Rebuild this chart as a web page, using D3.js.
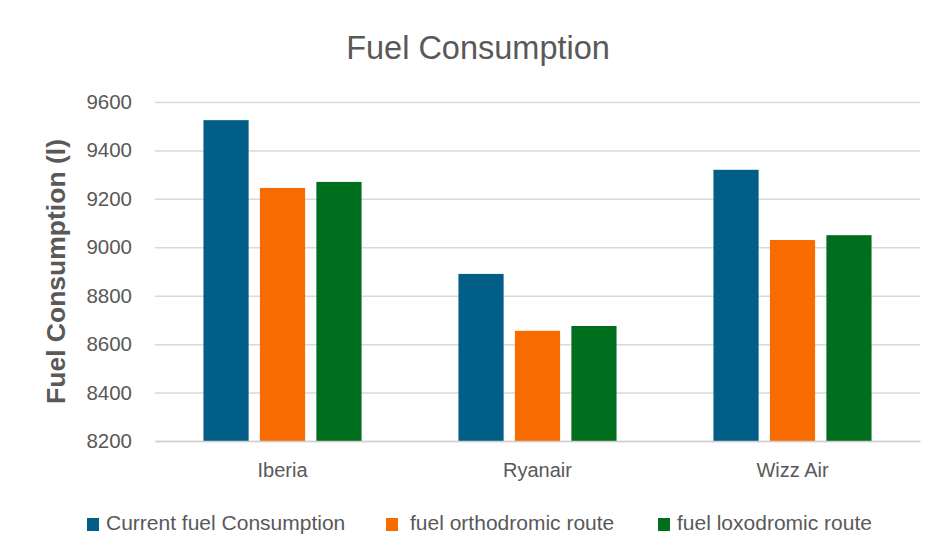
<!DOCTYPE html>
<html>
<head>
<meta charset="utf-8">
<script src="https://cdn.jsdelivr.net/npm/d3@7/dist/d3.min.js"></script>
<style>
  html, body { margin: 0; padding: 0; background: #fff; }
  svg { display: block; font-family: "Liberation Sans", Arial, sans-serif; }
</style>
</head>
<body>
<svg id="chart" width="938" height="559"></svg>
<script>
const categories = ["Iberia", "Ryanair", "Wizz Air"];
const seriesNames = ["Current fuel Consumption", "fuel  orthodromic route", "fuel loxodromic route"];
const currentFuel = [9525, 8890, 9320];
const orthodromicFuel = [9245, 8655, 9030];
const loxodromicFuel = [9270, 8675, 9050];
const yTicks = [8200, 8400, 8600, 8800, 9000, 9200, 9400, 9600];
const colors = ["#005E87", "#F76B00", "#006E1F"];
const chartTitle = "Fuel Consumption";
const yTitle = "Fuel Consumption (l)";

const series = [currentFuel, orthodromicFuel, loxodromicFuel];
const data = categories.map((c, i) => ({
  category: c,
  values: series.map((s, j) => ({ key: seriesNames[j], idx: j, value: s[i] }))
}));

const svg = d3.select("#chart");
const margin = { left: 155, right: 18, top: 102, bottom: 118 };
const W = 938, H = 559;
const plotW = W - margin.left - margin.right;
const plotH = H - margin.top - margin.bottom;
const textColor = "#595959";

const g = svg.append("g").attr("transform", `translate(${margin.left},${margin.top})`);

const y = d3.scaleLinear().domain([8200, 9600]).range([plotH, 0]);
const x0 = d3.scaleBand().domain(categories).range([0, plotW]).paddingInner(0.38).paddingOuter(0.19);
const x1 = d3.scaleBand().domain(d3.range(series.length)).range([0, x0.bandwidth()]).paddingInner(0.2);

// gridlines
const grid = g.append("g").call(d3.axisLeft(y).tickValues(yTicks).tickSize(-plotW).tickFormat(""));
grid.select(".domain").remove();
grid.selectAll(".tick line").attr("stroke", "#D9D9D9").attr("stroke-width", 1.5);

// y tick labels
const yAxis = g.append("g").call(d3.axisLeft(y).tickValues(yTicks).tickSize(0).tickPadding(23).tickFormat(d3.format("d")));
yAxis.select(".domain").remove();
yAxis.selectAll("text").attr("fill", textColor).style("font-size", "20.5px")
  .style("font-family", "'Liberation Sans', Arial, sans-serif");

// bars
const groups = g.selectAll(".grp").data(data).join("g")
  .attr("transform", d => `translate(${x0(d.category)},0)`);
groups.selectAll("rect").data(d => d.values).join("rect")
  .attr("x", d => x1(d.idx))
  .attr("width", x1.bandwidth())
  .attr("y", d => y(d.value))
  .attr("height", d => y(8200) - y(d.value))
  .attr("fill", d => colors[d.idx]);

// x axis
const xAxis = g.append("g").attr("transform", `translate(0,${plotH})`)
  .call(d3.axisBottom(x0).tickSize(0).tickPadding(22));
xAxis.select(".domain").attr("stroke", "#D0D0D0").attr("stroke-width", 1.5);
xAxis.selectAll("text").attr("fill", textColor).style("font-size", "20px")
  .style("font-family", "'Liberation Sans', Arial, sans-serif");

// title
svg.append("text").attr("x", 478).attr("y", 59)
  .attr("text-anchor", "middle").attr("fill", textColor)
  .style("font-size", "32.5px").text(chartTitle);

// y title
svg.append("text")
  .attr("transform", `translate(65,${margin.top + plotH / 2}) rotate(-90)`)
  .attr("text-anchor", "middle").attr("fill", textColor)
  .style("font-size", "26.5px").style("font-weight", "bold").text(yTitle);

// legend
const legend = svg.append("g").attr("transform", "translate(0,530)");
const legendX = [87, 386, 658];
const textGap = [19, 24, 19];
seriesNames.forEach((name, i) => {
  const it = legend.append("g").attr("transform", `translate(${legendX[i]},0)`);
  it.append("rect").attr("x", 0).attr("y", -12).attr("width", 12).attr("height", 13).attr("fill", colors[i]);
  it.append("text").attr("x", textGap[i]).attr("y", 0).attr("fill", textColor)
    .style("font-size", "21px").text(name.replace(/\s+/g, " "));
});
</script>
</body>
</html>
